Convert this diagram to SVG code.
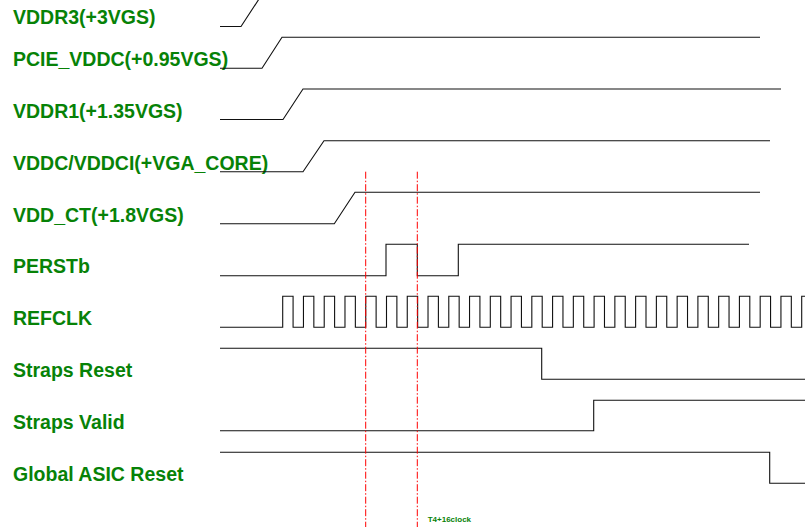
<svg xmlns="http://www.w3.org/2000/svg" width="805" height="527" viewBox="0 0 805 527">
<style>
.lbl{font-family:"Liberation Sans",Arial,Helvetica,sans-serif;font-weight:bold;font-size:19.5px;fill:#078207}
.small{font-family:"Liberation Sans",Arial,Helvetica,sans-serif;font-weight:bold;font-size:8px;fill:#078207}
.wave{fill:none;stroke:#111;stroke-width:1.1}
.mark{fill:none;stroke:#ff0000;stroke-width:1;stroke-dasharray:7,2,1.5,2}
</style>
<rect width="805" height="527" fill="#fff"/>
<g id="vddr3">
<text class="lbl" x="13" y="24">VDDR3(+3VGS)</text>
<path class="wave" d="M220,26.5 H241 L259,-1"/>
</g>
<g id="pcie_vddc">
<text class="lbl" x="13" y="65.7">PCIE_VDDC(+0.95VGS)</text>
<path class="wave" d="M220,68.3 H262 L282,37.3 H760"/>
</g>
<g id="vddr1">
<text class="lbl" x="13" y="118">VDDR1(+1.35VGS)</text>
<path class="wave" d="M220,119.5 H283 L303,89 H781"/>
</g>
<g id="vddc">
<text class="lbl" x="13" y="169.5">VDDC/VDDCI(+VGA_CORE)</text>
<path class="wave" d="M220,171.7 H303 L324,140.7 H770"/>
</g>
<g id="vdd_ct">
<text class="lbl" x="13" y="221.5">VDD_CT(+1.8VGS)</text>
<path class="wave" d="M220,223.7 H334.3 L355,192.3 H760"/>
</g>
<g id="perstb">
<text class="lbl" x="13" y="273">PERSTb</text>
<path class="wave" d="M220,275.7 H386 V244.3 H417.3 V275.7 H458.3 V244.3 H749"/>
</g>
<g id="refclk">
<text class="lbl" x="13" y="325">REFCLK</text>
<path class="wave" d="M220,327.3 H282.7 v-31 h10.38 v31 h10.38 v-31 h10.38 v31 h10.38 v-31 h10.38 v31 h10.38 v-31 h10.38 v31 h10.38 v-31 h10.38 v31 h10.38 v-31 h10.38 v31 h10.38 v-31 h10.38 v31 h10.38 v-31 h10.38 v31 h10.38 v-31 h10.38 v31 h10.38 v-31 h10.38 v31 h10.38 v-31 h10.38 v31 h10.38 v-31 h10.38 v31 h10.38 v-31 h10.38 v31 h10.38 v-31 h10.38 v31 h10.38 v-31 h10.38 v31 h10.38 v-31 h10.38 v31 h10.38 v-31 h10.38 v31 h10.38 v-31 h10.38 v31 h10.38 v-31 h10.38 v31 h10.38 v-31 h10.38 v31 h10.38 v-31 h10.38 v31 h10.38 v-31 h10.38 v31 h10.38 v-31 h10.38 v31 h10.38 v-31 h10.38 v31 h10.38 v-31 h10.38 v31 h10.38 v-31 h6"/>
</g>
<g id="straps_reset">
<text class="lbl" x="13" y="377">Straps Reset</text>
<path class="wave" d="M220,348.3 H541.7 V379.3 H806"/>
</g>
<g id="straps_valid">
<text class="lbl" x="13" y="429">Straps Valid</text>
<path class="wave" d="M220,430.7 H593.7 V400.3 H806"/>
</g>
<g id="global_asic_reset">
<text class="lbl" x="13" y="481">Global ASIC Reset</text>
<path class="wave" d="M220,452.3 H769.7 V483.3 H806"/>
</g>
<g id="connectors">
<line class="mark" x1="365.7" y1="171.7" x2="365.7" y2="527"/>
<line class="mark" x1="417.3" y1="171.7" x2="417.3" y2="527"/>
</g>
<text class="small" x="427.7" y="522.3">T4+16clock</text>
</svg>
